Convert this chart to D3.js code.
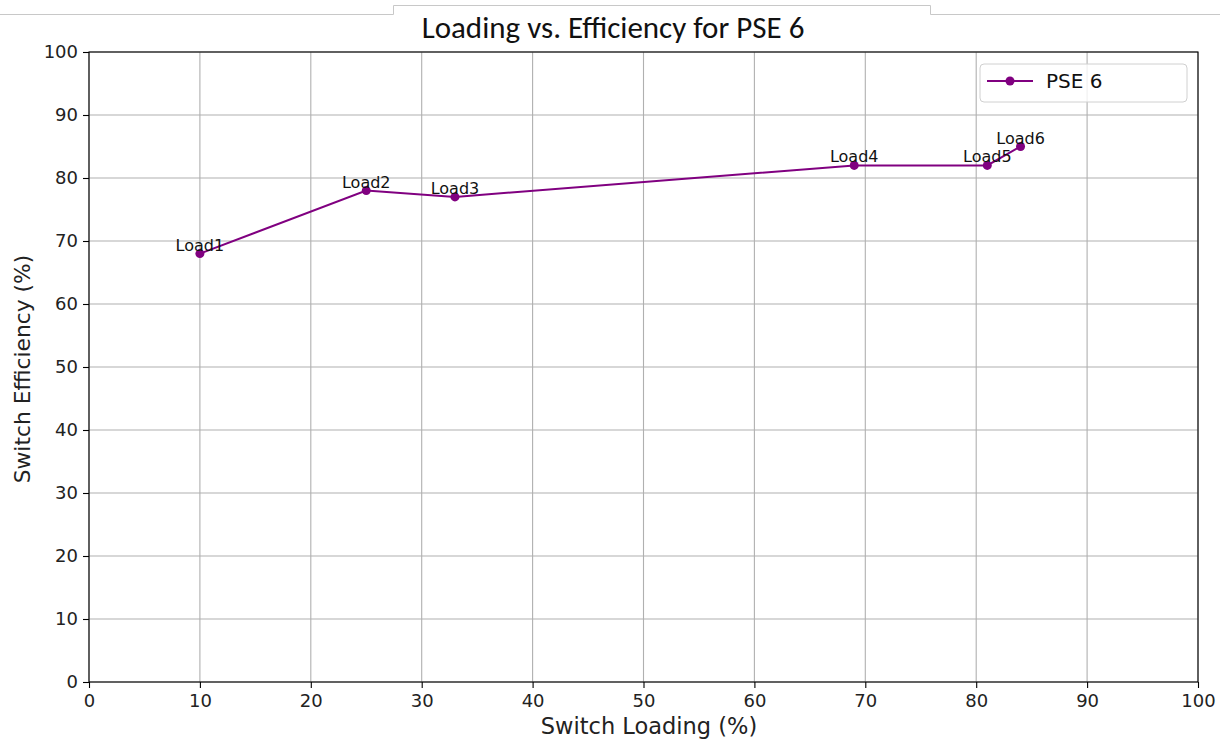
<!DOCTYPE html>
<html><head><meta charset="utf-8">
<script src="https://cdn.jsdelivr.net/npm/d3@7"></script>
<style>body{margin:0;background:#fff;}svg{display:block;}</style>
</head><body>
<svg id="chart" width="1220" height="739"></svg>
<script>
const loadNames = ["Load1","Load2","Load3","Load4","Load5","Load6"];
const loading = [10, 25, 33, 69, 81, 84];
const efficiency = [68, 78, 77, 82, 82, 85];
const xTicks = [0,10,20,30,40,50,60,70,80,90,100];
const yTicks = [0,10,20,30,40,50,60,70,80,90,100];
const seriesName = "PSE 6";
const titleText = "Loading vs. Efficiency for PSE 6";

(function(){
const svg = d3.select("#chart");
const pL = 89, pR = 1198, pT = 52, pB = 682;
const x = d3.scaleLinear().domain([0,100]).range([pL,pR]);
const y = d3.scaleLinear().domain([0,100]).range([pB,pT]);
const color = "#800080";
const font = "DejaVu Sans, sans-serif";

// title tab
svg.append("path")
  .attr("d", "M0,14.5H393.5V5.5H930.5V14.5H1220")
  .attr("fill","none").attr("stroke","#c8c8c8").attr("stroke-width",1);
svg.append("text").attr("x",613).attr("y",38).attr("text-anchor","middle")
  .attr("font-family","Carlito, 'Open Sans', sans-serif").attr("font-weight",400)
  .attr("font-size",31).attr("fill","#111")
  .text(titleText);

// grid
const g = svg.append("g");
g.selectAll("line.vx").data(xTicks).join("line")
  .attr("x1",d=>x(d)).attr("x2",d=>x(d)).attr("y1",pT).attr("y2",pB)
  .attr("stroke","#b0b0b0").attr("stroke-width",1.1);
g.selectAll("line.hy").data(yTicks).join("line")
  .attr("y1",d=>y(d)).attr("y2",d=>y(d)).attr("x1",pL).attr("x2",pR)
  .attr("stroke","#b0b0b0").attr("stroke-width",1.1);

// axes
const xAxis = d3.axisBottom(x).tickValues(xTicks).tickSize(6).tickPadding(6);
const yAxis = d3.axisLeft(y).tickValues(yTicks).tickSize(6).tickPadding(5);
const gx = svg.append("g").attr("transform",`translate(0,${pB})`).call(xAxis);
const gy = svg.append("g").attr("transform",`translate(${pL},0)`).call(yAxis);
[gx,gy].forEach(a=>{
  a.select(".domain").remove();
  a.selectAll(".tick line").attr("stroke","#000").attr("stroke-width",1.1);
  a.selectAll(".tick text").attr("font-family",font).attr("font-size",18).attr("fill","#222");
});
// frame
svg.append("rect").attr("x",pL).attr("y",pT).attr("width",pR-pL).attr("height",pB-pT)
  .attr("fill","none").attr("stroke","#000").attr("stroke-width",1.1);

// axis labels
svg.append("text").attr("x",649).attr("y",734).attr("text-anchor","middle")
  .attr("font-family",font).attr("font-size",22.5).attr("fill","#222").text("Switch Loading (%)");
svg.append("text").attr("transform",`translate(30,369) rotate(-90)`)
  .attr("text-anchor","middle").attr("font-family",font).attr("font-size",21.8).attr("fill","#222")
  .text("Switch Efficiency (%)");

// data
const data = loading.map((v,i)=>({x:v,y:efficiency[i],name:loadNames[i]}));
svg.append("path").datum(data)
  .attr("d", d3.line().x(d=>x(d.x)).y(d=>y(d.y)))
  .attr("fill","none").attr("stroke",color).attr("stroke-width",2);
svg.selectAll("circle.pt").data(data).join("circle")
  .attr("cx",d=>x(d.x)).attr("cy",d=>y(d.y)).attr("r",4.5).attr("fill",color);
svg.selectAll("text.lbl").data(data).join("text")
  .attr("x",d=>x(d.x)).attr("y",d=>y(d.y)-3).attr("text-anchor","middle")
  .attr("font-family",font).attr("font-size",16).attr("fill","#111").text(d=>d.name);

// legend
const lg = svg.append("g");
lg.append("rect").attr("x",980).attr("y",64).attr("width",207).attr("height",38).attr("rx",4)
  .attr("fill","#fff").attr("fill-opacity",0.8).attr("stroke","#d0d0d0").attr("stroke-width",1);
lg.append("line").attr("x1",987).attr("x2",1033).attr("y1",81).attr("y2",81)
  .attr("stroke",color).attr("stroke-width",2);
lg.append("circle").attr("cx",1010).attr("cy",81).attr("r",4.5).attr("fill",color);
lg.append("text").attr("x",1046).attr("y",88).attr("font-family",font).attr("font-size",20)
  .attr("fill","#111").text(seriesName);
})();
</script>
</body></html>
